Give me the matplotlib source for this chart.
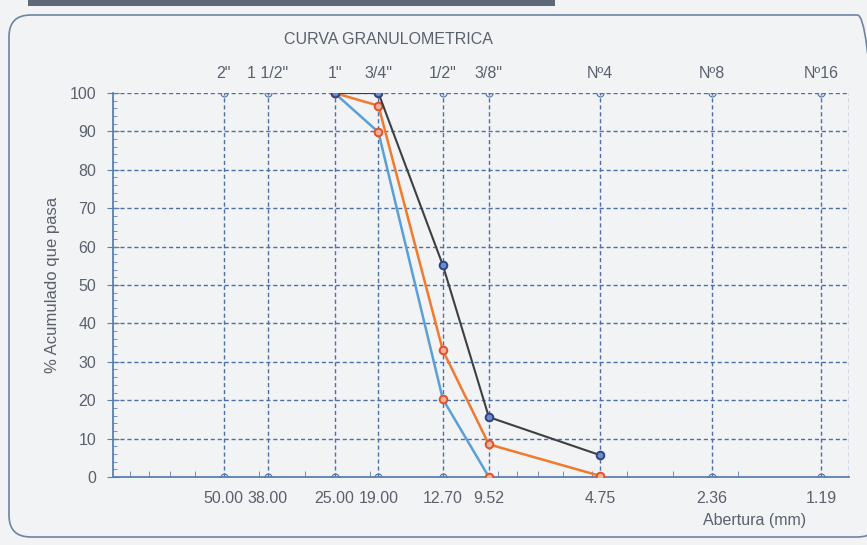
import numpy as np
import matplotlib.pyplot as plt
from matplotlib.patches import FancyBboxPatch, Rectangle
from matplotlib.ticker import FixedLocator, NullFormatter, LogLocator

# Sieve openings (mm) and names
sieve_mm    = [50.00, 38.00, 25.00, 19.00, 12.70, 9.52, 4.75, 2.36, 1.19]
sieve_lbl   = ['50.00', '38.00', '25.00', '19.00', '12.70', '9.52', '4.75', '2.36', '1.19']
sieve_names = ['2"', '1 1/2"', '1"', '3/4"', '1/2"', '3/8"', 'N\u00ba4', 'N\u00ba8', 'N\u00ba16']

# Curves (% passing)
x_dark   = [25.00, 19.00, 12.70, 9.52, 4.75]
y_dark   = [100.0, 100.0, 55.2, 15.6, 5.7]
x_orange = [25.00, 19.00, 12.70, 9.52, 4.75]
y_orange = [100.0, 96.7, 33.0, 8.5, 0.3]
x_blue   = [25.00, 19.00, 12.70, 9.52]
y_blue   = [100.0, 89.8, 20.3, 0.0]

grid_c = '#4d6fa8'
txt_c  = '#5a606c'
paper  = '#f2f3f5'
fs     = 11.5

plt.rcParams['font.family'] = ['Liberation Sans', 'DejaVu Sans']

fig = plt.figure(figsize=(8.67, 5.45), dpi=100)
fig.patch.set_facecolor(paper)

# frame and top bar from the scanned sheet
fig.patches.append(FancyBboxPatch((9/867, 8/545), 870/867, 522/545,
                                  boxstyle='round,pad=0,rounding_size=0.025',
                                  transform=fig.transFigure, fill=False,
                                  ec='#6f84a0', lw=1.2, mutation_aspect=867/545))
fig.patches.append(Rectangle((28/867, 1 - 6/545), 527/867, 6/545,
                             transform=fig.transFigure, fc='#5f6876', ec='none'))

ax = fig.add_axes([113/867, 1 - 477/545, 736/867, 384/545])
ax.set_facecolor(paper)
ax.set_xscale('log')
ax.set_xlim(100, 1)
ax.set_ylim(0, 100)

# horizontal grid
for yv in range(10, 101, 10):
    ax.plot([100, 1], [yv, yv], ls=(0, (3, 2)), color=grid_c, lw=1, zorder=1)
# sieve verticals with markers at ends
for s in sieve_mm:
    ax.plot([s, s], [0, 100], ls=(0, (3, 2)), color=grid_c, lw=1, zorder=1,
            marker='o', ms=5, mfc='none', mec=grid_c, mew=0.8)
ax.plot([1, 1], [0, 100], ls=(0, (3, 2)), color=grid_c, lw=1, zorder=1)

ax.plot(x_blue, y_blue, color='#5a9fd6', lw=1.8, zorder=3,
        marker='o', ms=5.5, mfc='#f3b49a', mec='#e0502a', mew=1.4)
ax.plot(x_orange, y_orange, color='#f07a2e', lw=1.8, zorder=4,
        marker='o', ms=5.5, mfc='#f3b49a', mec='#e0502a', mew=1.4)
ax.plot(x_dark, y_dark, color='#3d3f44', lw=1.5, zorder=5,
        marker='o', ms=5.5, mfc='#6f8cc8', mec='#2c4485', mew=1.4)

for side in ['top', 'right']:
    ax.spines[side].set_visible(False)
for side in ['left', 'bottom']:
    ax.spines[side].set_color('#5b7fb0')
    ax.spines[side].set_linewidth(1.3)

ax.xaxis.set_major_locator(FixedLocator(sieve_mm))
ax.set_xticklabels(sieve_lbl)
ax.xaxis.set_minor_locator(LogLocator(base=10, subs=np.arange(2, 10)))
ax.xaxis.set_minor_formatter(NullFormatter())
ax.tick_params(axis='x', which='major', length=0, pad=10, labelsize=fs, labelcolor=txt_c)
ax.tick_params(axis='x', which='minor', direction='in', length=4, color='#5b7fb0')

ax.set_yticks(range(0, 101, 10))
ax.set_yticks(range(0, 101, 2), minor=True)
ax.tick_params(axis='y', which='major', direction='inout', length=8, color='#5b7fb0',
               pad=8, labelsize=fs, labelcolor=txt_c)
ax.tick_params(axis='y', which='minor', direction='in', length=3, color='#5b7fb0')
ax.set_ylabel('% Acumulado que pasa', color=txt_c, fontsize=12, labelpad=7)

# top axis with sieve names
top = ax.twiny()
top.set_xscale('log')
top.set_xlim(100, 1)
top.xaxis.set_major_locator(FixedLocator(sieve_mm))
top.set_xticklabels(sieve_names)
top.xaxis.set_minor_locator(FixedLocator([]))
top.tick_params(axis='x', length=0, pad=9, labelsize=fs, labelcolor=txt_c)
for side in top.spines:
    top.spines[side].set_visible(False)

fig.text(388/867, 1 - 40/545, 'CURVA GRANULOMETRICA', ha='center', va='center',
         color=txt_c, fontsize=fs)
fig.text(703/867, 1 - 520/545, 'Abertura (mm)', ha='left', va='center',
         color=txt_c, fontsize=fs)

fig.savefig('out.png', dpi=100, facecolor=fig.get_facecolor())
